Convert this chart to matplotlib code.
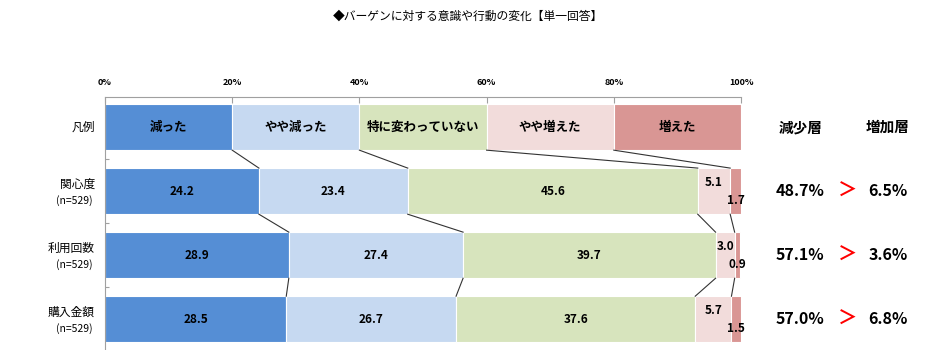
import matplotlib
matplotlib.use("Agg")
import matplotlib.pyplot as plt
import numpy as np

plt.rcParams['font.family'] = ['Noto Sans CJK JP', 'DejaVu Sans']

# data
categories = ['減った', 'やや減った', '特に変わっていない', 'やや増えた', '増えた']
colors = ['#558ED5', '#C6D9F1', '#D7E4BD', '#F2DCDB', '#D99694']
row_names = ['関心度', '利用回数', '購入金額']
row_n = ['(n=529)', '(n=529)', '(n=529)']
values = [
    [24.2, 23.4, 45.6, 5.1, 1.7],
    [28.9, 27.4, 39.7, 3.0, 0.9],
    [28.5, 26.7, 37.6, 5.7, 1.5],
]
decrease = ['48.7%', '57.1%', '57.0%']
increase = ['6.5%', '3.6%', '6.8%']
legend_vals = [20, 20, 20, 20, 20]
xticks = [0, 20, 40, 60, 80, 100]

fig = plt.figure(figsize=(9.4, 3.5), dpi=100)
ax = fig.add_axes([105 / 940, 0.0, 636 / 940, 1 - 97 / 350])

h = 0.72
rows = [legend_vals] + values
cums = []
for i, r in enumerate(rows):
    left = 0
    edges = []
    for j, v in enumerate(r):
        ax.barh(i, v, left=left, height=h, color=colors[j], edgecolor='white', linewidth=0.8)
        if i == 0:
            ax.text(left + v / 2, i, categories[j], ha='center', va='center',
                    fontsize=9, fontweight='bold')
        else:
            dy = 0
            if v < 7:
                dy = -0.14 if j == 3 else 0.15
            ax.text(left + v / 2, i + dy, f'{v:.1f}', ha='center', va='center',
                    fontsize=8.5, fontweight='bold')
        left += v
        edges.append(left)
    cums.append(edges)

# connector lines between rows
for i in range(len(rows) - 1):
    for k in range(4):
        ax.plot([cums[i][k], cums[i + 1][k]], [i + h / 2, i + 1 - h / 2],
                color='#333333', lw=0.8)

# row labels (x in data units, left of the axis)
xl = -1.6
ax.text(xl, 0, '凡例', ha='right', va='center', fontsize=8.5, clip_on=False)
for i, (nm, n) in enumerate(zip(row_names, row_n)):
    ax.text(xl, i + 1 - 0.11, nm, ha='right', va='center', fontsize=8.5, clip_on=False)
    ax.text(xl - 0.3, i + 1 + 0.15, n, ha='right', va='center', fontsize=7.5, clip_on=False)

# right-hand summary
ax.text(109.3, 0, '減少層', ha='center', va='center', fontsize=10.5, fontweight='bold', clip_on=False)
ax.text(123.1, 0, '増加層', ha='center', va='center', fontsize=10.5, fontweight='bold', clip_on=False)
for i in range(3):
    ax.text(109.3, i + 1, decrease[i], ha='center', va='center', fontsize=11.5, fontweight='bold', clip_on=False)
    ax.text(116.7, i + 1, '＞', ha='center', va='center', fontsize=14, fontweight='bold', color='red', clip_on=False)
    ax.text(123.1, i + 1, increase[i], ha='center', va='center', fontsize=11.5, fontweight='bold', clip_on=False)

ax.set_xlim(0, 100)
ax.set_ylim(3.48, -0.47)
ax.xaxis.tick_top()
ax.set_xticks(xticks)
ax.set_xticklabels([f'{t}%' for t in xticks], fontsize=6.5, fontweight='bold')
ax.tick_params(axis='x', direction='in', length=4, color='#A0A0A0', pad=7)
ax.set_yticks([0.5, 1.5, 2.5])
ax.set_yticklabels([])
ax.tick_params(axis='y', direction='in', length=3, color='#A0A0A0')
for s in ['right', 'bottom']:
    ax.spines[s].set_visible(False)
for s in ['top', 'left']:
    ax.spines[s].set_color('#A0A0A0')
    ax.spines[s].set_linewidth(0.8)

fig.text(0.498, 0.955, '◆バーゲンに対する意識や行動の変化【単一回答】', ha='center', va='center', fontsize=8.5)

fig.savefig('out.png', dpi=100)
